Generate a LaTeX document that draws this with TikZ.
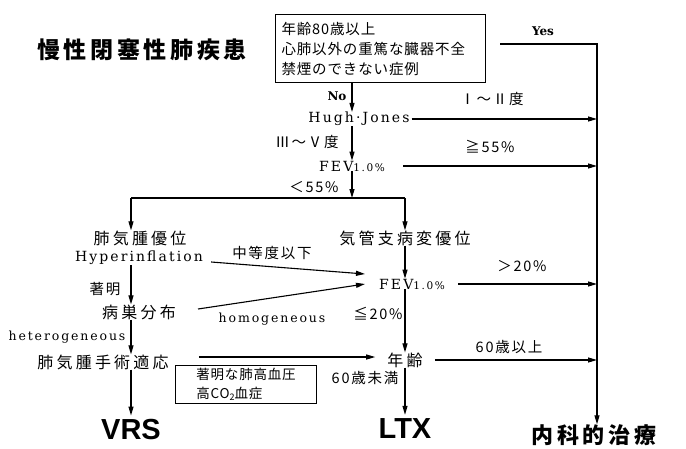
\documentclass[tikz,border=0pt]{standalone}
\usepackage{fontspec}
\usetikzlibrary{arrows.meta}
\newfontfamily\jpf[LetterSpace=20]{Noto Sans CJK JP}
\newfontfamily\jps[LetterSpace=12]{Noto Sans CJK JP}
\newfontfamily\jpt[LetterSpace=16]{Noto Sans CJK JP}
\newfontfamily\jpbox[LetterSpace=6]{Noto Sans CJK JP}
\newfontfamily\serf[LetterSpace=15]{DejaVu Serif}
\newfontfamily\sern{DejaVu Serif}
\newfontfamily\sanf{Liberation Sans}
\begin{document}
\begin{tikzpicture}[x=1pt,y=-1pt,
  cj/.style={inner sep=0pt, font=\jpf\fontsize{16}{18}\selectfont},
  cjs/.style={inner sep=0pt, font=\jps\fontsize{14.5}{16}\selectfont},
  ttl/.style={inner sep=0pt, font=\jpt\bfseries\fontsize{23}{26}\selectfont},
  se/.style={inner sep=0pt, font=\serf\fontsize{14}{16}\selectfont},
  ses/.style={inner sep=0pt, font=\serf\fontsize{12.5}{15}\selectfont},
  yn/.style={inner sep=0pt, font=\sern\bfseries\fontsize{12}{14}\selectfont},
  big/.style={inner sep=0pt, font=\sanf\bfseries\fontsize{29}{30}\selectfont},
  bigjp/.style={inner sep=0pt, font=\jpt\bfseries\fontsize{22}{24}\selectfont},
  ln/.style={line width=1.1pt},
  ar/.style={-{Triangle[length=9pt,width=5pt]}},
  fev/.style={inner sep=0pt}
]
\useasboundingbox (0,0) rectangle (686,448);
% title
\node[ttl] (t) at (142,50) {慢性閉塞性肺疾患};
% exclusion box
\node[draw, line width=1pt, anchor=north west, align=left, text width=198pt,
      minimum height=68pt, inner xsep=6pt, inner ysep=2pt,
      font=\jpbox\fontsize{14.5}{20}\selectfont] (box) at (275,14)
      {年齢80歳以上\\心肺以外の重篤な臓器不全\\禁煙のできない症例};
\node[yn] (yes) at (543,31) {Yes};
\coordinate (ys) at (500,44);
\coordinate (vr) at (597,44);
\coordinate (cx) at (352,0);
\node[yn] (no) at (337,96) {No};
\node[se] (hj) at (359,119) {Hugh·Jones};
\node[cjs] (g12) at (492,99) {Ⅰ～Ⅱ度};
\node[cjs] (g35) at (307,142) {Ⅲ～Ⅴ度};
\node[fev] (f1) at (352,166) {{\serf\fontsize{14}{16}\selectfont FEV}{\serf\fontsize{10.5}{13}\selectfont 1.0\%}};
\node[cjs] (p55a) at (490,147) {≧55\%};
\node[cjs] (p55b) at (314,187) {＜55\%};
\coordinate (sp) at (352,198);
\coordinate (lx) at (131,198);
\coordinate (rx) at (405,198);
\node[cj] (emph) at (140,238) {肺気腫優位};
\node[se] (hyp) at (139,258) {Hyperinflation};
\node[cj] (bron) at (405,238) {気管支病変優位};
\node[fev] (f2) at (412,284) {{\serf\fontsize{14}{16}\selectfont FEV}{\serf\fontsize{10.5}{13}\selectfont 1.0\%}};
\node[cjs] (mod) at (272,253) {中等度以下};
\node[cjs] (p20a) at (522,266) {＞20\%};
\node[cjs] (marked) at (105,289) {著明};
\node[cj] (dist) at (139,312) {病巣分布};
\node[ses] (homo) at (272,319) {homogeneous};
\node[cjs] (p20b) at (378,314) {≦20\%};
\node[ses] (het) at (67,337) {heterogeneous};
\node[cj] (ind) at (103,362) {肺気腫手術適応};
\node[draw, line width=1pt, anchor=north west, align=left, inner xsep=8pt, inner ysep=3pt,
      minimum width=141pt, minimum height=35pt,
      font=\jpbox\fontsize{13.5}{19}\selectfont] (cbox) at (175,365)
      {著明な肺高血圧\\高CO\raisebox{-2pt}{\fontsize{9}{10}\selectfont 2}血症};
\node[cj] (age) at (405,360) {年齢};
\node[cjs] (a60u) at (509,347) {60歳以上};
\node[cjs] (a60d) at (365,378) {60歳未満};
\node[big] (vrs) at (131,430) {VRS};
\node[big] (ltx) at (405,429) {LTX};
\node[bigjp] (med) at (594,435) {内科的治療};
% connectors
\draw[ln,ar] (ys) -- (vr) -- (vr |- med.north);
\draw[ln,ar] (box.south -| cx) -- (hj.north -| cx);
\draw[ln,ar] (hj.south -| cx) -- (f1.north -| cx);
\draw[ln,ar] (f1.south -| cx) -- (sp);
\draw[ln] (lx) -- (rx);
\draw[ln,ar] (lx) -- (emph.north -| lx);
\draw[ln,ar] (rx) -- (bron.north -| rx);
\draw[ln,ar] ([xshift=2pt]hj.east) -- (hj.east -| vr);
\draw[ln,ar] ([xshift=18pt]f1.east) -- (f1.east -| vr);
\draw[ln,ar] (bron.south -| rx) -- (f2.north -| rx);
\draw[ln,ar] ([xshift=8pt,yshift=-4pt]hyp.east) -- ([xshift=-14pt,yshift=10pt]f2.west);
\draw[ln,ar] ([xshift=22pt,yshift=3pt]dist.east) -- ([xshift=-14pt,yshift=0pt]f2.west);
\draw[ln,ar] ([xshift=13pt]f2.east) -- (f2.east -| vr);
\draw[ln,ar] (f2.south -| rx) -- (age.north -| rx);
\draw[ln,ar] (hyp.south -| lx) -- (dist.north -| lx);
\draw[ln,ar] (dist.south -| lx) -- (ind.north -| lx);
\draw[ln,ar, shorten >=4pt] (ind.south -| lx) -- (vrs.north -| lx);
\draw[ln,ar] ([xshift=30pt,yshift=5pt]ind.east) -- ([xshift=-12pt,yshift=3pt]age.west);
\draw[ln,ar] ([xshift=12pt]age.east) -- (age.east -| vr);
\draw[ln,ar, shorten >=4pt] (age.south -| rx) -- (ltx.north -| rx);
\end{tikzpicture}
\end{document}
